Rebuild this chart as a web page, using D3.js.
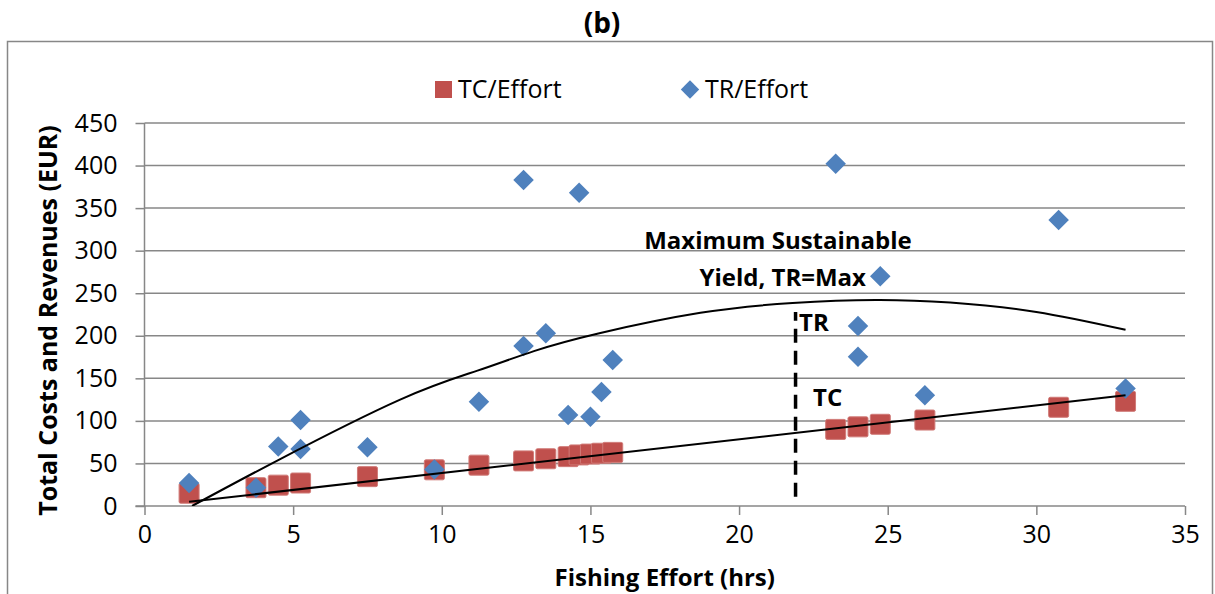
<!DOCTYPE html>
<html>
<head>
<meta charset="utf-8">
<script src="https://cdn.jsdelivr.net/npm/d3@7"></script>
<style>
  body { margin: 0; background: #fff; }
  svg { display: block; font-family: "Open Sans", sans-serif; }
</style>
</head>
<body>
<svg></svg>
<script>
//	data: fishing effort (hrs) with total costs / total revenues (EUR)
var tcEffort = [1.5, 3.75, 4.5, 5.25, 7.5, 9.75, 11.25, 12.75, 13.5, 14.25, 14.62, 15, 15.37, 15.75, 23.25, 24, 24.75, 26.25, 30.75, 33];
var tcValues = [15, 21.5, 24.5, 27, 34.5, 42.5, 48, 53, 55.5, 58, 60, 61, 62, 63, 90, 93, 96, 101, 116, 123];

var trEffort = [1.5, 3.75, 4.5, 5.25, 5.25, 7.5, 9.75, 11.25, 12.75, 14.62, 12.75, 13.5, 14.25, 15, 15.37, 15.75, 23.25, 24.75, 24, 24, 26.25, 30.75, 33];
var trValues = [27, 21.5, 70, 101, 67, 69, 43, 122.5, 383, 368, 188, 203, 107, 105, 134, 171.5, 402, 270, 211.5, 175.5, 130, 336, 138];

//	trendlines
var tcTrendX = [1.5, 33];
var tcTrendY = [5, 130];
var trTrendX = [1.6, 4.5, 8.6, 11.2, 13.1, 15.3, 18.7, 21.8, 24.6, 27.1, 30, 33];
var trTrendY = [0, 54, 125, 159, 182, 203, 227, 238.5, 242, 239, 228, 207];

//	MSY marker
var msyEffort = 21.9;
var msyRange = [11, 228];

var xTicks = [0, 5, 10, 15, 20, 25, 30, 35];
var yTicks = [0, 50, 100, 150, 200, 250, 300, 350, 400, 450];

var width = 1215, height = 594;
var svg = d3.select("svg").attr("width", width).attr("height", height);

var x = d3.scaleLinear().domain([0, 35]).range([144.5, 1185]);
var y = d3.scaleLinear().domain([0, 450]).range([506, 123]);

var grey = "#878787";

//	outer chart border
svg.append("rect")
    .attr("x", 7.5).attr("y", 41.5)
    .attr("width", 1205).attr("height", 570)
    .attr("fill", "none")
    .attr("stroke", grey)
    .attr("stroke-width", 1.5);

//	title
svg.append("text")
    .attr("x", 602).attr("y", 33)
    .attr("text-anchor", "middle")
    .style("font-size", "28px").style("font-weight", "bold")
    .text("(b)");

//	gridlines
svg.append("g").selectAll("line")
    .data(yTicks.filter(function(d) { return d > 0; }))
    .enter().append("line")
    .attr("x1", x(0)).attr("x2", x(35))
    .attr("y1", function(d) { return y(d); })
    .attr("y2", function(d) { return y(d); })
    .attr("stroke", grey).attr("stroke-width", 1.5);

//	axes
var xAxis = d3.axisBottom(x).tickValues(xTicks).tickSize(9).tickPadding(10);
var yAxis = d3.axisLeft(y).tickValues(yTicks).tickSize(9).tickPadding(18);

var gx = svg.append("g").attr("transform", "translate(0," + y(0) + ")").call(xAxis);
var gy = svg.append("g").attr("transform", "translate(" + x(0) + ",0)").call(yAxis);

[gx, gy].forEach(function(g) {
    g.select(".domain").attr("stroke", grey).attr("stroke-width", 1.5);
    g.selectAll(".tick line").attr("stroke", grey).attr("stroke-width", 1.5);
    g.selectAll(".tick text")
        .attr("fill", "#000")
        .style("font-family", "Open Sans")
        .style("font-size", "25px");
});
gy.select(".domain").attr("d", "M0," + y(450) + "V" + y(0));
gx.select(".domain").attr("d", "M" + (x(0) - 9) + ",0H" + x(35));

//	axis titles
svg.append("text")
    .attr("x", x(17.5)).attr("y", 586)
    .attr("text-anchor", "middle")
    .style("font-size", "24px").style("font-weight", "bold")
    .text("Fishing Effort (hrs)");

svg.append("text")
    .attr("transform", "translate(57," + (y(225) + 6) + ") rotate(-90)")
    .attr("text-anchor", "middle")
    .style("font-size", "25px").style("font-weight", "bold")
    .text("Total Costs and Revenues (EUR)");

//	clip for trendlines
svg.append("clipPath").attr("id", "plot")
    .append("rect")
    .attr("x", x(0)).attr("y", y(450))
    .attr("width", x(35) - x(0)).attr("height", y(0) - y(450));

var red = "#C0504D", blue = "#4F81BD";
var sq = 20, dm = 14.5;

//	TC squares
svg.append("g").selectAll("rect")
    .data(tcEffort.map(function(d, i) { return [d, tcValues[i]]; }))
    .enter().append("rect")
    .attr("x", function(d) { return x(d[0]) - sq / 2; })
    .attr("y", function(d) { return y(d[1]) - sq / 2; })
    .attr("width", sq).attr("height", sq)
    .attr("rx", 1.5)
    .attr("fill", red)
    .attr("stroke", "#d07a77").attr("stroke-width", 1);

//	TR diamonds
svg.append("g").selectAll("rect")
    .data(trEffort.map(function(d, i) { return [d, trValues[i]]; }))
    .enter().append("rect")
    .attr("x", -dm / 2).attr("y", -dm / 2)
    .attr("width", dm).attr("height", dm)
    .attr("transform", function(d) { return "translate(" + x(d[0]) + "," + y(d[1]) + ") rotate(45)"; })
    .attr("fill", blue);

//	trendlines
var line = d3.line()
    .x(function(d) { return x(d[0]); })
    .y(function(d) { return y(d[1]); });

svg.append("path")
    .datum(tcTrendX.map(function(d, i) { return [d, tcTrendY[i]]; }))
    .attr("d", line)
    .attr("fill", "none").attr("stroke", "#000").attr("stroke-width", 2)
    .attr("clip-path", "url(#plot)");

svg.append("path")
    .datum(trTrendX.map(function(d, i) { return [d, trTrendY[i]]; }))
    .attr("d", line.curve(d3.curveNatural))
    .attr("fill", "none").attr("stroke", "#000").attr("stroke-width", 2)
    .attr("clip-path", "url(#plot)");

//	MSY dashed line
svg.append("line")
    .attr("x1", x(msyEffort)).attr("x2", x(msyEffort))
    .attr("y1", y(msyRange[0])).attr("y2", y(msyRange[1]))
    .attr("stroke", "#000").attr("stroke-width", 3.5)
    .attr("stroke-dasharray", "14,8");

//	annotations
function note(px, py, anchor, txt) {
    svg.append("text")
        .attr("x", px).attr("y", py)
        .attr("text-anchor", anchor)
        .style("font-size", "24px").style("font-weight", "bold")
        .text(txt);
}
note(778, 249, "middle", "Maximum Sustainable");
note(866, 286, "end", "Yield, TR=Max");
note(799, 331, "start", "TR");
note(813, 406, "start", "TC");

//	legend
var legend = svg.append("g");
legend.append("rect")
    .attr("x", 435).attr("y", 81).attr("width", 17).attr("height", 17)
    .attr("fill", red);
legend.append("text")
    .attr("x", 458).attr("y", 98)
    .style("font-size", "25px")
    .text("TC/Effort");
legend.append("rect")
    .attr("x", -6.5).attr("y", -6.5).attr("width", 13).attr("height", 13)
    .attr("transform", "translate(690,89.5) rotate(45)")
    .attr("fill", blue);
legend.append("text")
    .attr("x", 705).attr("y", 98)
    .style("font-size", "25px")
    .text("TR/Effort");
</script>
</body>
</html>
